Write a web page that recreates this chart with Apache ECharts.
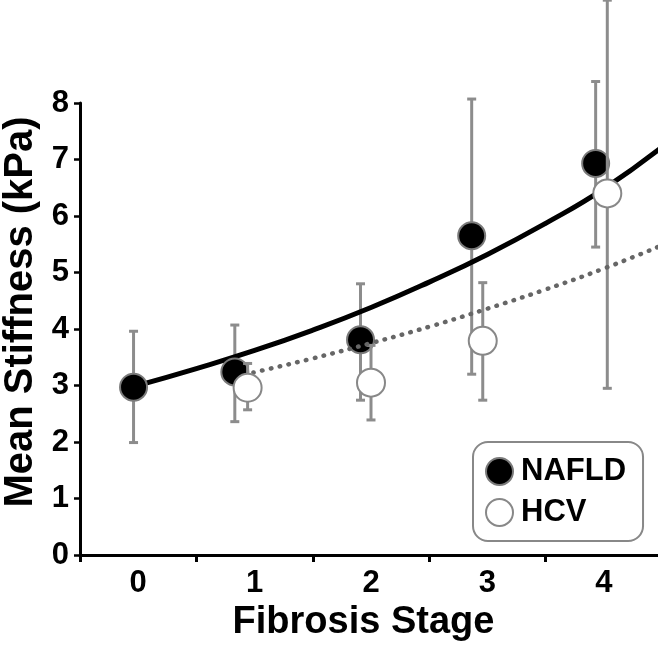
<!DOCTYPE html>
<html>
<head>
<meta charset="utf-8">
<script src="https://cdn.jsdelivr.net/npm/echarts@6/dist/echarts.min.js"></script>
<style>
  html, body { margin: 0; padding: 0; background: #fff; }
  #chart { width: 658px; height: 650px; }
</style>
</head>
<body>
<div id="chart"></div>
<script>
// x positions are slightly offset from the stage in the figure
const stageLabels = [0, 1, 2, 3, 4];
const stageTicks = [-0.5, 0.5, 1.5, 2.5, 3.5];
const yTicks = [0, 1, 2, 3, 4, 5, 6, 7, 8];

const nafldX = [-0.04, 0.83, 1.91, 2.865, 3.93];
const nafldMean = [2.97, 3.24, 3.81, 5.65, 6.93];
const nafldLow = [1.99, 2.36, 2.74, 3.2, 5.45];
const nafldHigh = [3.96, 4.07, 4.8, 8.07, 8.38];

const hcvX = [0.94, 2.0, 2.96, 4.03];
const hcvMean = [2.96, 3.05, 3.79, 6.4];
const hcvLow = [2.57, 2.39, 2.74, 2.95];
const hcvHigh = [3.39, 3.71, 4.82, 9.82];

// trend curves
const nafldFitX = [-0.04, 0.5, 1, 1.5, 2, 2.5, 3, 3.5, 4, 4.5];
const nafldFitY = [2.98, 3.3, 3.62, 3.98, 4.38, 4.83, 5.32, 5.87, 6.48, 7.22];
const hcvFitX = [0.99, 1.5, 2, 2.5, 3, 3.5, 4, 4.5];
const hcvFitY = [3.23, 3.48, 3.75, 4.04, 4.36, 4.7, 5.07, 5.48];

const FONT = 'Liberation Sans, Arial, Helvetica, sans-serif';
const BAR_GREY = '#8c8c8c';

function zip(a, b) {
  return a.map((v, i) => [v, b[i]]);
}

function errorSeries(xs, lo, hi, z) {
  return {
    type: 'custom',
    z: z,
    clip: false,
    silent: true,
    encode: { x: 0, y: [1, 2] },
    data: xs.map((x, i) => [x, lo[i], hi[i]]),
    renderItem: function (params, api) {
      const x = api.value(0);
      const a = api.coord([x, api.value(1)]);
      const b = api.coord([x, api.value(2)]);
      const w = 4.5;
      const st = { stroke: BAR_GREY, lineWidth: 3 };
      return {
        type: 'group',
        children: [
          { type: 'line', shape: { x1: a[0], y1: a[1], x2: b[0], y2: b[1] }, style: st },
          { type: 'line', shape: { x1: a[0] - w, y1: a[1], x2: a[0] + w, y2: a[1] }, style: st },
          { type: 'line', shape: { x1: b[0] - w, y1: b[1], x2: b[0] + w, y2: b[1] }, style: st },
        ],
      };
    },
  };
}

const chart = echarts.init(document.getElementById('chart'), null, { renderer: 'canvas' });

const option = {
  animation: false,
  backgroundColor: '#fff',
  grid: {
    left: 80,
    right: -4,
    top: 103,
    bottom: 95,
    containLabel: false,
    outerBoundsMode: 'none',
  },
  legend: {
    data: ['NAFLD', 'HCV'],
    orient: 'vertical',
    left: 473,
    top: 442,
    padding: [14, 17, 13, 12],
    itemGap: 10,
    itemWidth: 27,
    itemHeight: 27,
    icon: 'circle',
    borderColor: '#888',
    borderWidth: 2,
    borderRadius: 15,
    textStyle: {
      fontFamily: FONT,
      fontWeight: 'bold',
      fontSize: 31,
      color: '#000',
      padding: [0, 0, 0, 3],
    },
  },
  xAxis: {
    type: 'value',
    min: -0.5,
    max: 4.5,
    name: 'Fibrosis Stage',
    nameLocation: 'middle',
    nameGap: 46,
    nameTextStyle: {
      fontFamily: FONT,
      fontWeight: 'bold',
      fontSize: 38,
      color: '#000',
      padding: [0, 15, 0, 0],
    },
    splitLine: { show: false },
    axisLine: { show: true, onZero: false, lineStyle: { color: '#000', width: 3 } },
    axisTick: {
      show: true,
      customValues: stageTicks,
      length: 7,
      lineStyle: { color: '#000', width: 3 },
    },
    axisLabel: {
      customValues: stageLabels,
      margin: 13,
      fontFamily: FONT,
      fontWeight: 'bold',
      fontSize: 31,
      color: '#000',
    },
  },
  yAxis: {
    type: 'value',
    min: 0,
    max: 8,
    interval: 1,
    name: 'Mean Stiffness (kPa)',
    nameLocation: 'middle',
    nameGap: 38,
    nameTextStyle: {
      fontFamily: FONT,
      fontWeight: 'bold',
      fontSize: 40,
      color: '#000',
      padding: [0, 0, 0, 34],
    },
    splitLine: { show: false },
    axisLine: { show: true, onZero: false, lineStyle: { color: '#000', width: 3 } },
    axisTick: { show: true, customValues: yTicks, length: 6, lineStyle: { color: '#000', width: 2.5 } },
    axisLabel: {
      customValues: yTicks,
      margin: 11,
      fontFamily: FONT,
      fontWeight: 'bold',
      fontSize: 31,
      color: '#000',
    },
  },
  series: [
    errorSeries(nafldX, nafldLow, nafldHigh, 1),
    {
      name: 'nafldFit',
      type: 'line',
      z: 2,
      smooth: true,
      symbol: 'none',
      silent: true,
      data: zip(nafldFitX, nafldFitY),
      lineStyle: { color: '#000', width: 5 },
    },
    {
      name: 'NAFLD',
      type: 'scatter',
      z: 3,
      symbol: 'circle',
      symbolSize: 27,
      data: zip(nafldX, nafldMean),
      itemStyle: { color: '#000', borderColor: '#7a7a7a', borderWidth: 2, opacity: 1 },
    },
    errorSeries(hcvX, hcvLow, hcvHigh, 4),
    {
      name: 'hcvFit',
      type: 'line',
      z: 5,
      smooth: true,
      symbol: 'none',
      silent: true,
      data: zip(hcvFitX, hcvFitY),
      lineStyle: { color: '#666', width: 4.5, type: [0.5, 8.5], cap: 'round' },
    },
    {
      name: 'HCV',
      type: 'scatter',
      z: 6,
      symbol: 'circle',
      symbolSize: 28,
      data: zip(hcvX, hcvMean),
      itemStyle: { color: '#fff', borderColor: '#888', borderWidth: 2, opacity: 1 },
    },
  ],
};

chart.setOption(option);
</script>
</body>
</html>
